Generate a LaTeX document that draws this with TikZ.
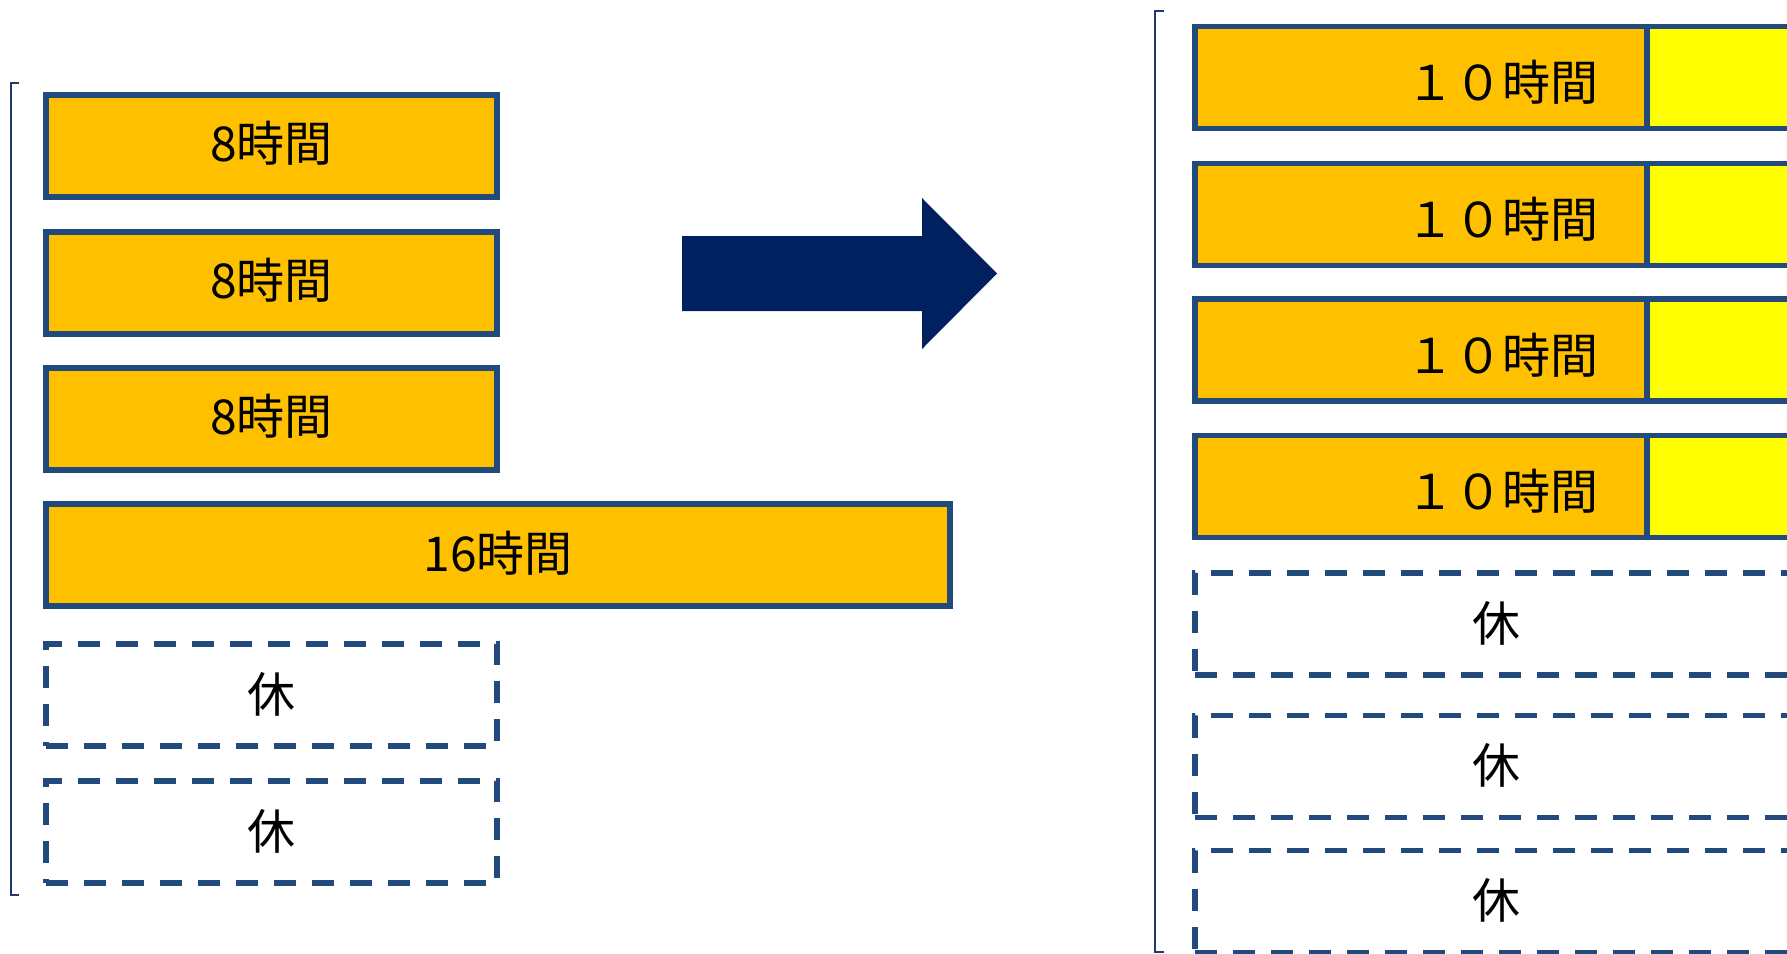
\documentclass[tikz,border=0pt]{standalone}
\usepackage{fontspec}
\newfontfamily\jpfont{Noto Sans CJK JP}
\definecolor{edgeblue}{HTML}{224A7C}
\definecolor{boxorange}{HTML}{FFC000}
\definecolor{boxyellow}{HTML}{FFFF00}
\definecolor{arrownavy}{HTML}{002060}
\definecolor{bracketnavy}{HTML}{1F3A70}
\tikzset{
  basebox/.style={draw=edgeblue, line width=5.3pt, inner sep=0pt, outer sep=0pt},
  workbox/.style={basebox, fill=boxorange},
  extrabox/.style={basebox, fill=boxyellow},
  restbox/.style={basebox, dash pattern=on 22pt off 16pt},
  labeltext/.style={inner sep=0pt, font=\jpfont\fontsize{48}{56}\selectfont, text=black},
  bracketline/.style={draw=bracketnavy, line width=1.8pt},
}
\begin{document}
\begin{tikzpicture}[x=1pt,y=-1pt]
\useasboundingbox (0,0) rectangle (1787,953);
\clip (0,0) rectangle (1787,953);

% left bracket
\draw[bracketline] (19,83) -- (11,83) -- (11,895) -- (19,895);

% left column boxes
\node[workbox, minimum width=451pt, minimum height=102pt] (l1) at (271.5,146) {};
\node[workbox, minimum width=451pt, minimum height=102pt] (l2) at (271.5,283) {};
\node[workbox, minimum width=451pt, minimum height=102pt] (l3) at (271.5,419) {};
\node[workbox, minimum width=904pt, minimum height=102pt] (l4) at (498,555) {};
\node[restbox, minimum width=451pt, minimum height=102pt] (l5) at (271.5,695) {};
\node[restbox, minimum width=451pt, minimum height=102pt] (l6) at (271.5,832) {};
% left column labels
\node[labeltext] (lt1) at ([yshift=3pt]l1.center) {8時間};
\node[labeltext] (lt2) at ([yshift=3pt]l2.center) {8時間};
\node[labeltext] (lt3) at ([yshift=3pt]l3.center) {8時間};
\node[labeltext] (lt4) at ([yshift=2pt]l4.center) {16時間};
\node[labeltext] (lt5) at ([yshift=1pt]l5.center) {休};
\node[labeltext] (lt6) at ([yshift=1pt]l6.center) {休};

% big arrow
\fill[arrownavy] (682,236) -- (922,236) -- (922,198) -- (997,273.5) -- (922,349) -- (922,311) -- (682,311) -- cycle;

% right bracket
\draw[bracketline] (1164,11) -- (1155,11) -- (1155,952) -- (1164,952);

% right column
\foreach \i/\yy in {1/77.5, 2/214.5, 3/350, 4/486.5}{
  \node[workbox, minimum width=452pt, minimum height=102pt, anchor=west] (ro\i) at (1195,\yy) {};
  \node[extrabox, minimum width=170pt, minimum height=102pt, anchor=west] (ry\i) at (ro\i.east) {};
  \node[labeltext] (rt\i) at (1502,\yy+5) {１０時間};
}
\node[restbox, minimum width=614pt, minimum height=102pt, anchor=west] (rr1) at (1195,624) {};
\node[restbox, minimum width=614pt, minimum height=102pt, anchor=west] (rr2) at (1195,766.5) {};
\node[restbox, minimum width=614pt, minimum height=102pt, anchor=west] (rr3) at (1195,901.5) {};
\node[labeltext] (rrt1) at (1496,623) {休};
\node[labeltext] (rrt2) at (1496,765.5) {休};
\node[labeltext] (rrt3) at (1496,900.5) {休};
\end{tikzpicture}
\end{document}
